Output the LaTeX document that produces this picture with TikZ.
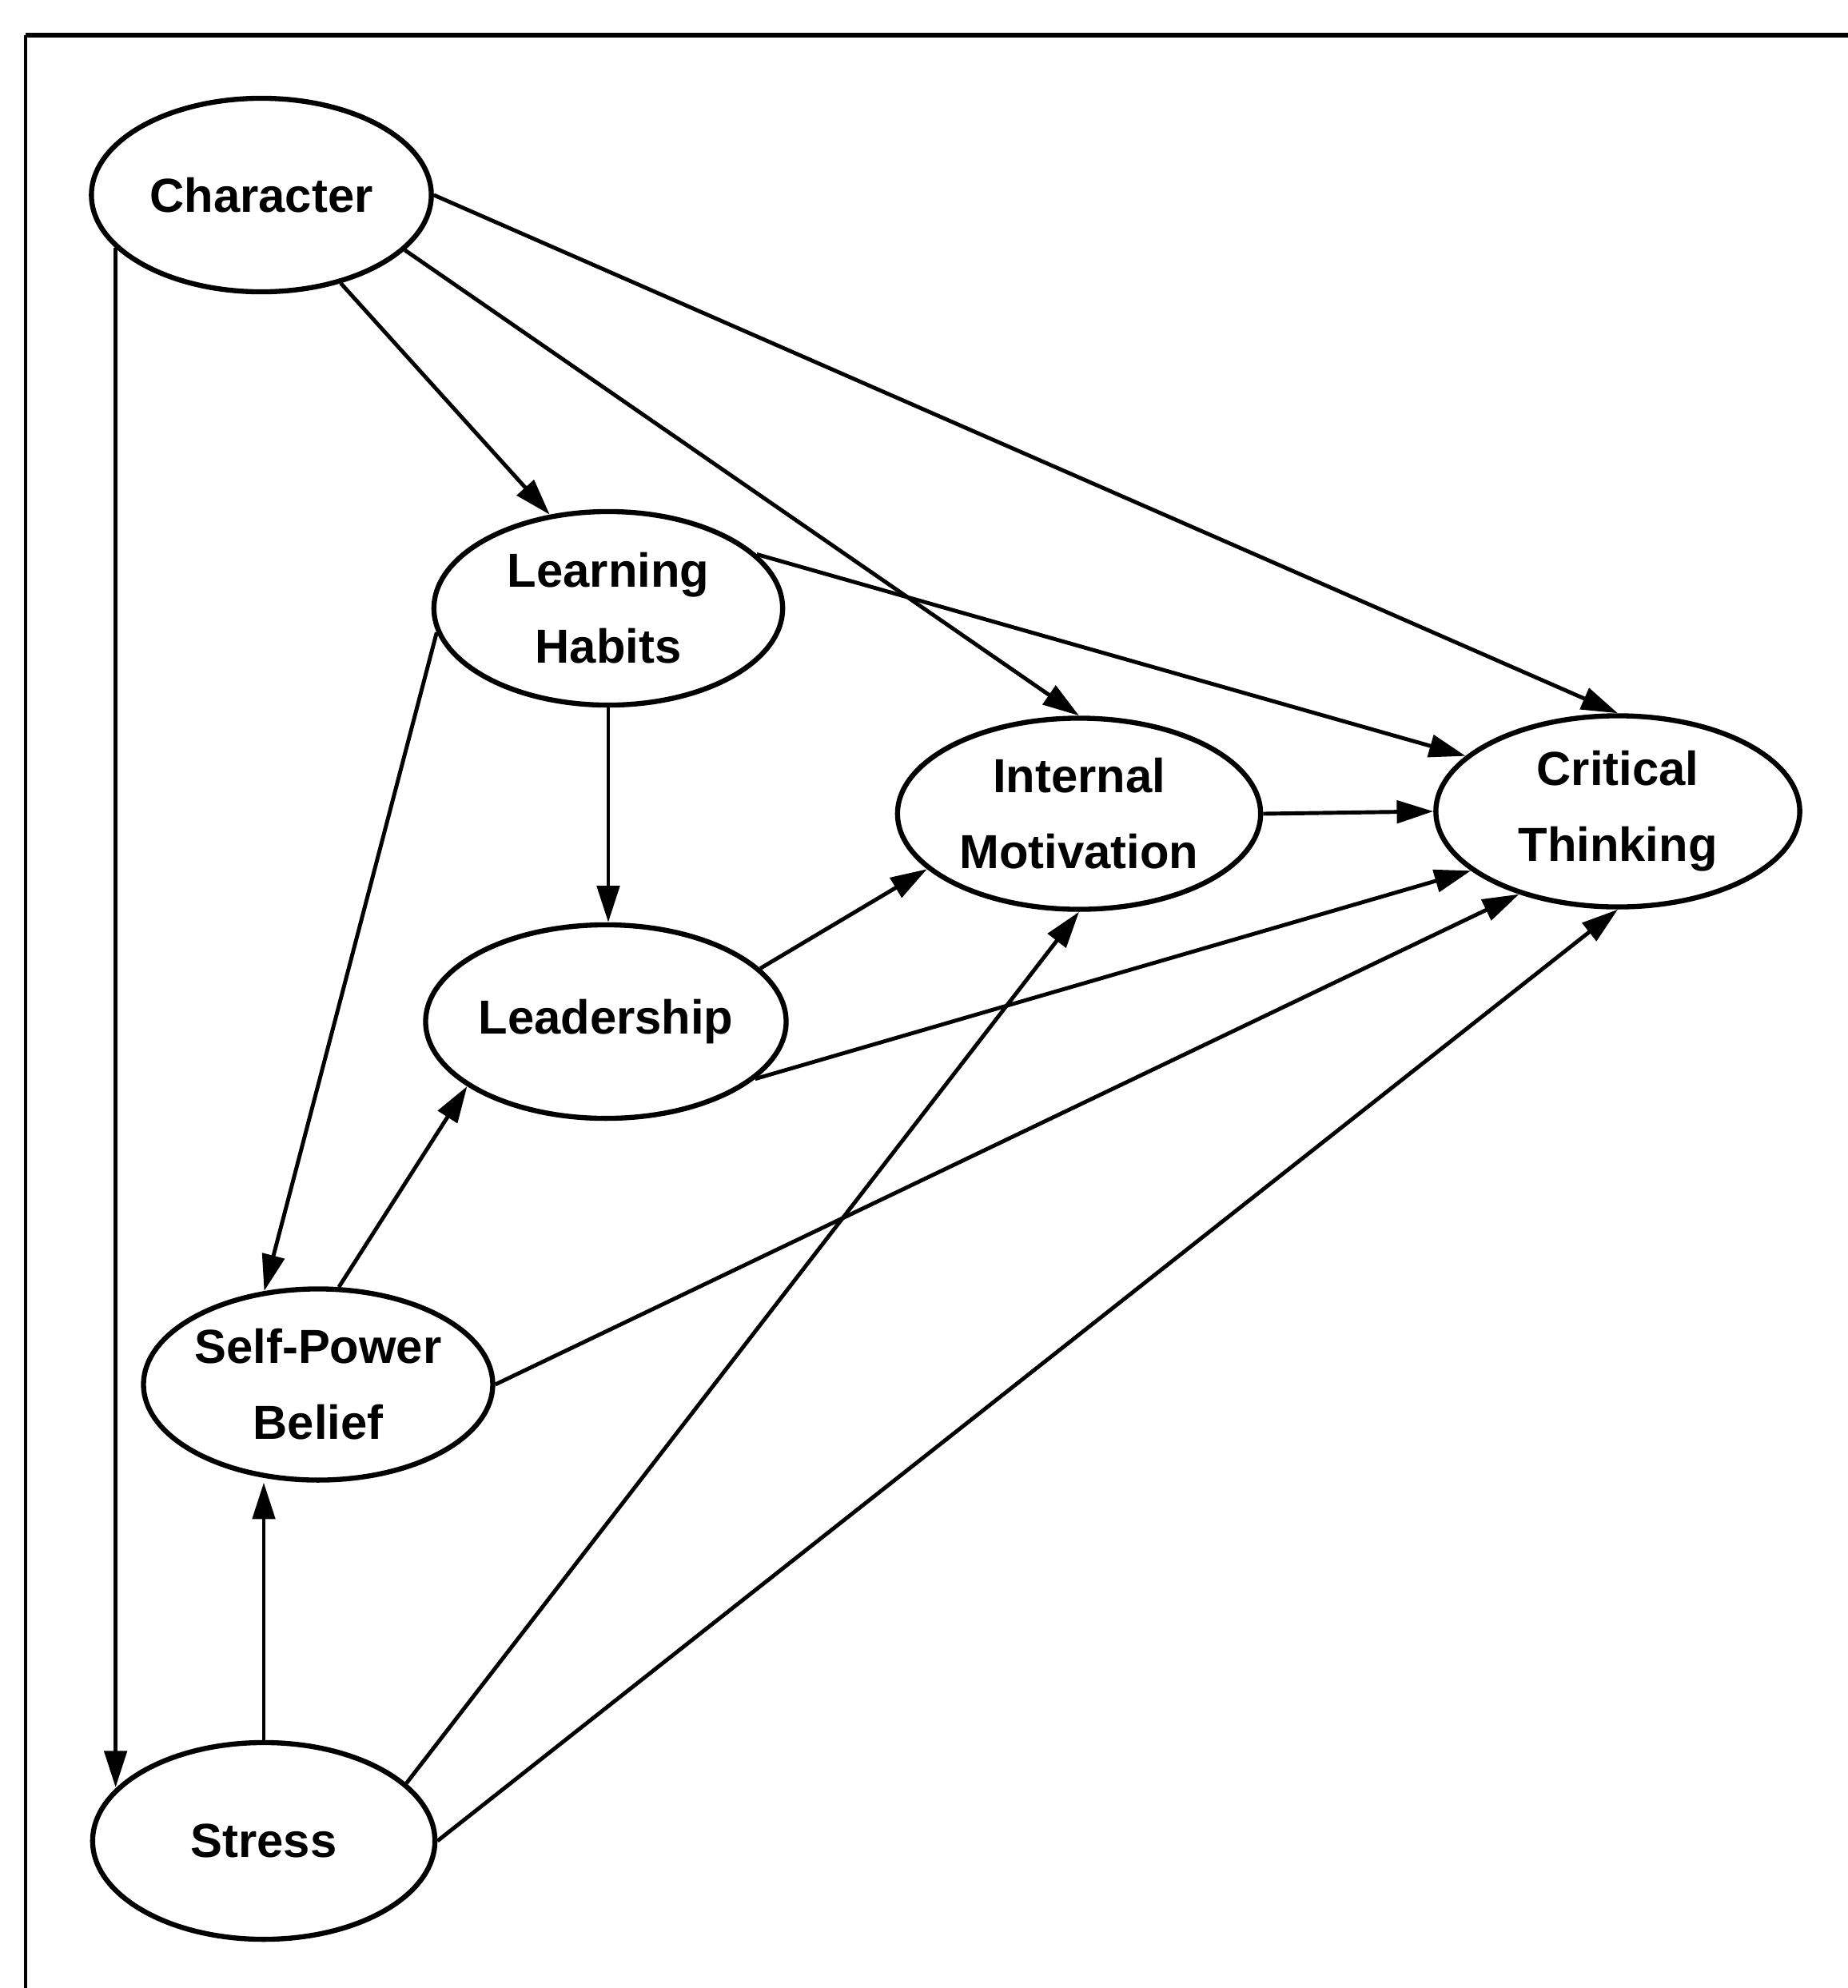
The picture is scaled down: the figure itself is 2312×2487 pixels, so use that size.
\documentclass[tikz,border=0pt]{standalone}
\usepackage{fontspec}
\setmainfont{Liberation Sans}
\usepackage{tikz}
\usetikzlibrary{arrows.meta}
\usetikzlibrary{shapes.geometric}
\tikzstyle{lv}=[ellipse,draw,line width=1.8pt,inner sep=0pt,align=center,minimum height=2.42cm,font=\bfseries\fontsize{17}{27}\selectfont]
\tikzstyle{eff}=[line width=1.4pt,-{Triangle[length=13pt,width=8pt]}]

\begin{document}
\begin{tikzpicture}[x=0.01cm,y=-0.01cm]
	\useasboundingbox (0,0) rectangle (2312,2487);
	\draw[line width=1.6pt] (32,44) -- (2312,44);
	\draw[line width=0.9pt] (32,44) -- (32,2487);
	\node[lv,minimum width=4.25cm] (Character) at (327,244) {Character};
	\node[lv,minimum width=4.36cm] (Learning) at (761,761) {Learning\\Habits};
	\node[lv,minimum width=4.54cm,minimum height=2.39cm] (Internal) at (1350,1018) {Internal\\Motivation};
	\node[lv,minimum width=4.55cm,minimum height=2.39cm] (Critical) at (2024,1015) {Critical\\Thinking};
	\node[lv,minimum width=4.39cm] (Leadership) at (758,1278) {Leadership};
	\node[lv,minimum width=4.27cm,minimum height=2.39cm] (SelfPower) at (398,1732) {Self-Power\\Belief};
	\node[lv,minimum width=4.28cm,minimum height=2.46cm] (Stress) at (330,2303) {Stress};
	\draw[eff] (Character.200) -- (Character.200 |- Stress.160);
	\draw[eff] (Character.-48) -- (Learning.122);
	\draw[eff] (Character.-21) -- (Internal.north);
	\draw[eff] (Character.east) -- (Critical.north);
	\draw[eff] (Learning.20) -- (Critical.160);
	\draw[eff] (Learning.south) -- (Learning.south |- Leadership.north);
	\draw[eff] (Learning.188) -- (SelfPower.120);
	\draw[eff] (Leadership.19) -- (Internal.200);
	\draw[eff] (Leadership.-21) -- (Critical.202);
	\draw[eff] (Internal.east) -- (Critical.west);
	\draw[eff] (SelfPower.78) -- (Leadership.205);
	\draw[eff] (SelfPower.east) -- (Critical.220);
	\draw[eff] (Stress.north) -- (Stress.north |- SelfPower.south);
	\draw[eff] (Stress.22) -- (Internal.south);
	\draw[eff] (Stress.east) -- (Critical.south);
\end{tikzpicture}
\end{document}
